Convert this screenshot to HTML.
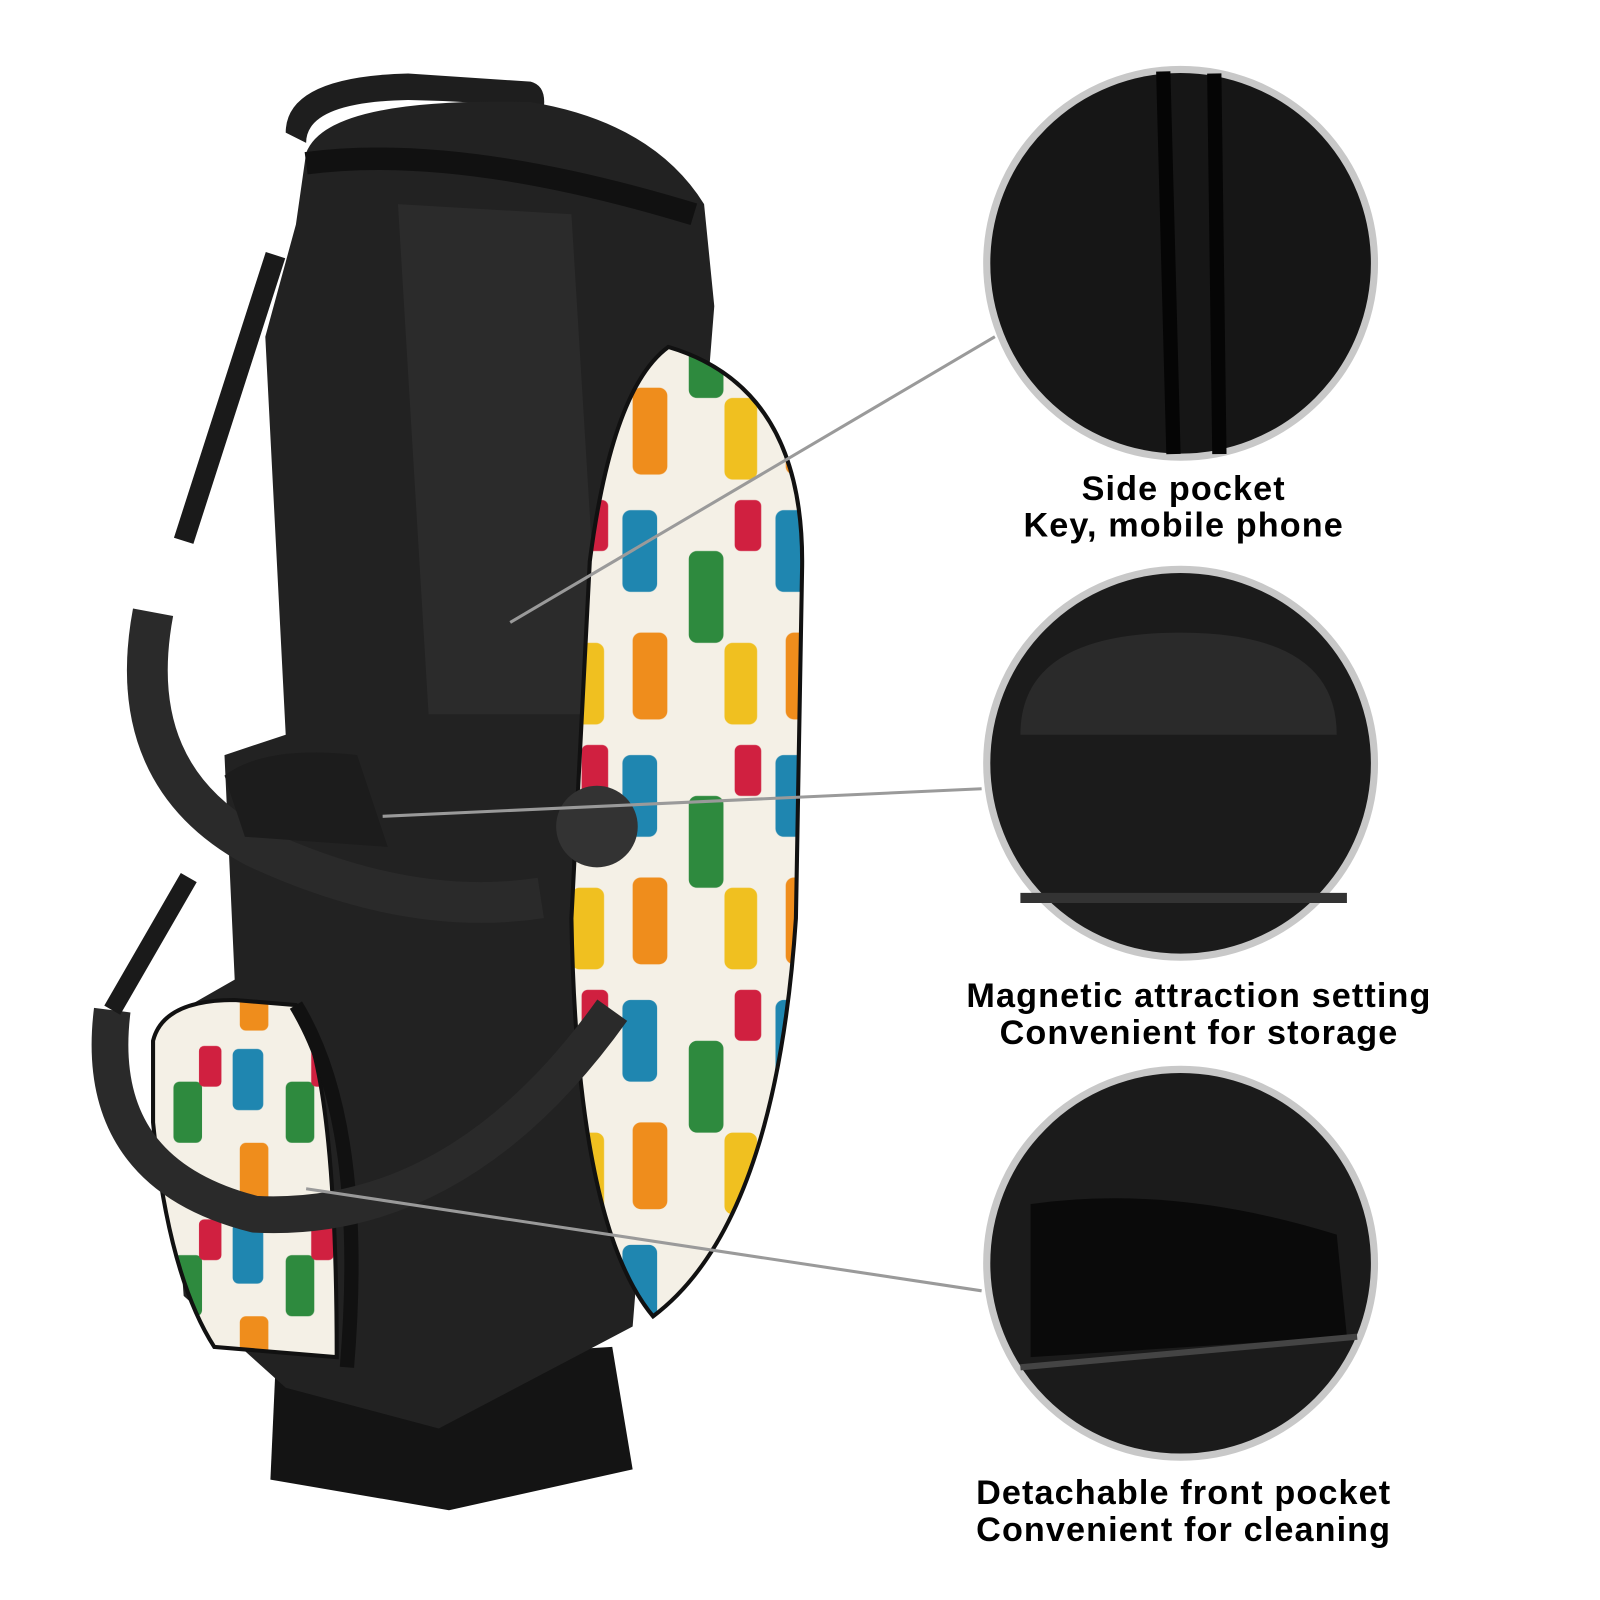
<!DOCTYPE html>
<html><head><meta charset="utf-8"><style>
html,body{margin:0;padding:0;background:#fff;width:1600px;height:1600px;overflow:hidden}
svg{display:block}
text{font-family:"Liberation Sans",sans-serif;font-weight:bold;font-size:33.5px;letter-spacing:1.1px;fill:#000}
</style></head><body>
<svg width="1600" height="1600" viewBox="0 0 1600 1600">
<defs>
<pattern id="pt" width="150" height="240" patternUnits="userSpaceOnUse">
<rect width="150" height="240" fill="#f4f0e6"/>
<rect x="10" y="20" width="34" height="80" rx="8" fill="#1f86b0"/>
<rect x="75" y="60" width="34" height="90" rx="8" fill="#2e8a3e"/>
<rect x="20" y="140" width="34" height="85" rx="8" fill="#ef8d1c"/>
<rect x="110" y="150" width="32" height="80" rx="8" fill="#f0c020"/>
<rect x="120" y="10" width="26" height="50" rx="6" fill="#d02040"/>
</pattern>
<pattern id="pt2" width="110" height="170" patternUnits="userSpaceOnUse">
<rect width="110" height="170" fill="#f4f0e6"/>
<rect x="8" y="8" width="30" height="60" rx="6" fill="#1f86b0"/>
<rect x="60" y="40" width="28" height="60" rx="6" fill="#2e8a3e"/>
<rect x="15" y="100" width="28" height="60" rx="6" fill="#ef8d1c"/>
<rect x="85" y="5" width="22" height="40" rx="5" fill="#d02040"/>
</pattern>
</defs>
<g transform="scale(1.0204)">
<path d="M270,1340 L600,1320 L620,1440 L440,1480 L265,1450 Z" fill="#141414"/>
<path d="M280,130 Q280,75 400,72 L520,80 Q540,85 530,120 L520,140 L510,110 Q500,100 400,98 Q300,100 300,140 Z" fill="#1e1e1e"/>
<path d="M300,150 Q320,95 520,100 Q640,120 690,200 L700,300 L620,1300 L430,1400 L280,1360 L180,1270 L160,1000 L230,960 L220,740 L280,720 L260,330 L290,220 Z" fill="#222"/>
<path d="M390,200 L560,210 L590,700 L420,700 Z" fill="#2b2b2b"/>
<path d="M300,160 Q450,140 680,210" stroke="#111" stroke-width="22" fill="none"/>
<path d="M655,340 Q790,380 786,560 L780,900 Q760,1200 640,1290 Q565,1200 560,900 L578,550 Q600,380 655,340 Z" fill="url(#pt)" stroke="#111" stroke-width="4"/>
<path d="M150,1020 Q160,980 230,980 L290,985 Q330,1050 330,1330 L210,1320 Q165,1250 150,1100 Z" fill="url(#pt2)" stroke="#111" stroke-width="4"/>
<path d="M290,985 Q360,1100 340,1340" stroke="#111" stroke-width="14" fill="none"/>
<path d="M150,600 Q120,760 250,830 Q400,900 530,880" stroke="#2a2a2a" stroke-width="40" fill="none"/>
<path d="M110,990 Q90,1150 250,1190 Q450,1200 600,990" stroke="#2a2a2a" stroke-width="36" fill="none"/>
<path d="M270,250 L180,530" stroke="#1a1a1a" stroke-width="20"/>
<path d="M185,860 L110,990" stroke="#1a1a1a" stroke-width="18"/>
<circle cx="585" cy="810" r="40" fill="#333"/>
<path d="M220,760 Q260,730 350,740 L380,830 L240,820 Z" fill="#1c1c1c"/>
<g stroke="#9a9a9a" stroke-width="3">
<line x1="975" y1="330" x2="500" y2="610"/>
<line x1="962" y1="773" x2="375" y2="800"/>
<line x1="962" y1="1265" x2="300" y2="1165"/>
</g>
<g stroke="#c8c8c8" stroke-width="7">
<circle cx="1157" cy="258" r="190" fill="#161616"/>
<circle cx="1157" cy="748" r="190" fill="#1b1b1b"/>
<circle cx="1157" cy="1238" r="190" fill="#1b1b1b"/>
</g>
<path d="M1140,70 L1150,445 M1190,72 L1195,445" stroke="#050505" stroke-width="14"/>
<path d="M1000,720 Q1000,620 1157,620 Q1310,620 1310,720 Z" fill="#2a2a2a"/>
<path d="M1000,880 L1320,880" stroke="#333" stroke-width="10"/>
<path d="M1010,1180 Q1150,1160 1310,1210 L1320,1310 L1010,1330 Z" fill="#0a0a0a"/>
<path d="M1000,1340 L1330,1310" stroke="#444" stroke-width="6"/>
<g text-anchor="middle">
<text x="1160" y="490">Side pocket</text>
<text x="1160" y="526">Key, mobile phone</text>
<text x="1175" y="987">Magnetic attraction setting</text>
<text x="1175" y="1023">Convenient for storage</text>
<text x="1160" y="1474">Detachable front pocket</text>
<text x="1160" y="1510">Convenient for cleaning</text>
</g>
</g>
</svg>
</body></html>
